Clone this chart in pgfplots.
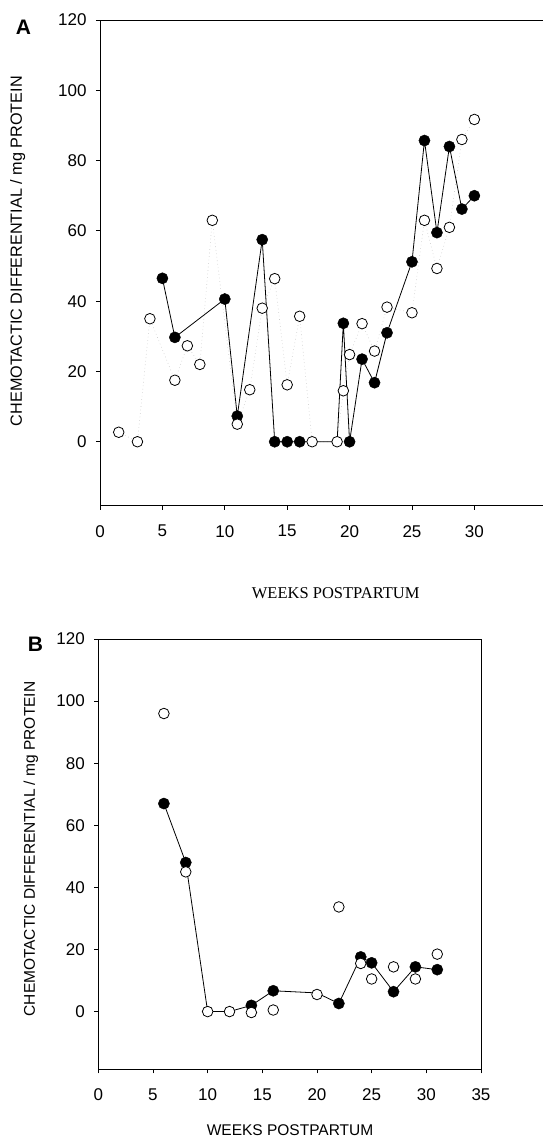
\documentclass[border=0pt]{standalone}
\usepackage{fontspec}
\setmainfont{Liberation Sans}
\newfontfamily\serifA{Liberation Serif}
\usepackage{pgfplots}
\pgfplotsset{compat=1.18}

\pgfplotsset{
 panel/.style={
  scale only axis,
  anchor=north west,
  tick align=outside,
  major tick length=4pt,
  axis line style={line width=0.8pt},
  every tick/.style={black, line width=0.8pt},
  ytick={0,20,...,120},
  /pgf/number format/assume math mode=true,
  ticklabel style={font=\fontsize{17}{18}\selectfont},
  xticklabel style={yshift=-12pt},
  yticklabel style={xshift=-6pt},
  label style={font=\fontsize{15.5}{17}\selectfont},
  clip=false,
 },
 filledline/.style={black, line width=0.8pt, mark=none},
 filledmk/.style={only marks, mark=*, mark size=5.6pt, mark options={fill=black, draw=black}},
 openmk/.style={only marks, mark=*, mark size=5.3pt, mark options={fill=white, draw=black, line width=0.8pt}},
}

\pgfplotstableread{
x y
5 46.5
6 29.7
10 40.6
11 7.3
13 57.5
14 0
15 0
16 0
17 0
19 0
19.5 33.7
20 0
21 23.5
22 16.8
23 31
25 51.2
26 85.7
27 59.5
28 84
29 66.2
30 70
}\Afilledline

\pgfplotstableread{
x y
5 46.5
6 29.7
10 40.6
11 7.3
13 57.5
14 0
15 0
16 0
19.5 33.7
20 0
21 23.5
22 16.8
23 31
25 51.2
26 85.7
27 59.5
28 84
29 66.2
30 70
}\Afilled

\pgfplotstableread{
x y
1.5 2.7
3 0
4 35
6 17.5
7 27.3
8 22
9 63
11 5
12 14.8
13 38
14 46.4
15 16.2
16 35.7
17 0
19 0
19.5 14.5
20 24.8
21 33.6
22 25.8
23 38.3
25 36.7
26 63
27 49.3
28 61
29 86
30 91.7
}\Aopen

\pgfplotstableread{
x y
6 67
8 48
10 0
12 0
14 2
16 6.7
20 6
22 2.6
24 17.6
25 15.7
27 6.4
29 14.4
31 13.5
}\Bfilledline

\pgfplotstableread{
x y
6 67
8 48
14 2
16 6.7
22 2.6
24 17.6
25 15.7
27 6.4
29 14.4
31 13.5
}\Bfilled

\pgfplotstableread{
x y
6 96
8 45
10 0
12 0
14 -0.3
16 0.5
20 5.5
22 33.7
24 15.5
25 10.5
27 14.4
29 10.5
31 18.5
}\Bopen

\begin{document}
\begin{tikzpicture}
\useasboundingbox (0,0) rectangle (543pt,-1139pt);

\begin{axis}[panel,
  at={(100pt,-20pt)}, width=443pt, height=485.7pt,
  xmin=0, xmax=35.5, ymin=-18.2, ymax=120,
  xtick={0,5,...,30},
  axis x line*=box, axis y line*=left,
  xtick pos=left, ytick pos=left,
  xlabel={\serifA\fontsize{16.5}{18}\selectfont WEEKS POSTPARTUM},
  ylabel={\fontsize{16.2}{18}\selectfont CHEMOTACTIC DIFFERENTIAL / mg PROTEIN},
  xlabel style={at={(axis description cs:0.532,-0.18)}, anchor=center},
  ylabel style={at={(axis description cs:-0.186,0.524)}, anchor=center},
]
\addplot[black!20, dash pattern=on 0.7pt off 2.8pt, line width=0.6pt] table {\Aopen};
\addplot[filledline] table {\Afilledline};
\addplot[filledmk] table {\Afilled};
\addplot[openmk] table {\Aopen};
\end{axis}

\begin{axis}[panel,
  at={(98.3pt,-639pt)}, width=382.7pt, height=430.3pt,
  xmin=0, xmax=35, ymin=-18.6, ymax=120,
  xtick={0,5,...,35},
  tick pos=left,
  xlabel={WEEKS POSTPARTUM},
  ylabel={CHEMOTACTIC DIFFERENTIAL / mg PROTEIN},
  xlabel style={at={(axis description cs:0.501,-0.141)}, anchor=center},
  ylabel style={at={(axis description cs:-0.176,0.512)}, anchor=center},
]
\addplot[filledline] table {\Bfilledline};
\addplot[filledmk] table {\Bfilled};
\addplot[openmk] table {\Bopen};
\end{axis}

\node[font=\bfseries\fontsize{21}{21}\selectfont] at (23.5pt,-27pt) {A};
\node[font=\bfseries\fontsize{21}{21}\selectfont] at (35.5pt,-644.5pt) {B};
\end{tikzpicture}
\end{document}
